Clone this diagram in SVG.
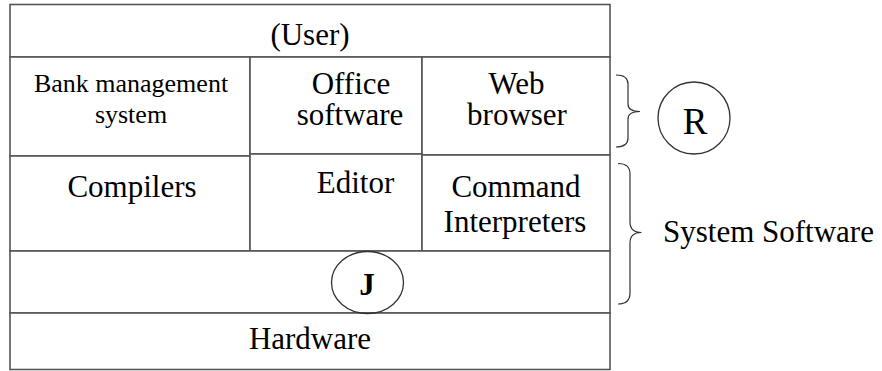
<svg xmlns="http://www.w3.org/2000/svg" width="882" height="371" viewBox="0 0 882 371">
<style>
.box{fill:#ffffff;stroke:#555555;stroke-width:1.6}
.t{font-family:"Liberation Serif","Times New Roman",serif;font-size:31px;fill:#000000;text-anchor:middle}
.s{font-size:26px}
.c{fill:none;stroke:#333333;stroke-width:1.3}
.br{fill:none;stroke:#333333;stroke-width:1.2}
</style>
<rect width="882" height="371" fill="#ffffff"/>
<g id="user"><rect class="box" x="10" y="4.5" width="600" height="52.5"/><text class="t" x="310" y="45">(User)</text></g>
<g id="bank"><rect class="box" x="10" y="57" width="240" height="99"/><text class="t s" x="131" y="92">Bank management</text><text class="t s" x="131" y="123">system</text></g>
<g id="office"><rect class="box" x="250" y="57" width="172" height="97"/><text class="t" x="351" y="94">Office</text><text class="t" x="350" y="125">software</text></g>
<g id="web"><rect class="box" x="422" y="57" width="188" height="98"/><text class="t" x="516.5" y="94">Web</text><text class="t" x="517" y="125">browser</text></g>
<g id="compilers"><rect class="box" x="10" y="156" width="240" height="95"/><text class="t" x="132" y="197">Compilers</text></g>
<g id="editor"><rect class="box" x="250" y="154" width="172" height="97"/><text class="t" x="355.5" y="193">Editor</text></g>
<g id="command"><rect class="box" x="422" y="155" width="188" height="96"/><text class="t" x="516" y="197">Command</text><text class="t" x="515" y="231.5">Interpreters</text></g>
<g id="kernel"><rect class="box" x="10" y="251" width="600" height="62"/></g>
<g id="hardware"><rect class="box" x="10" y="313" width="600" height="56.5"/><text class="t" x="310" y="349">Hardware</text></g>
<g id="J"><ellipse class="c" cx="367.5" cy="282.5" rx="36" ry="31"/><text class="t" x="367" y="294.5" style="font-size:31px;font-weight:bold">J</text></g>
<g id="R"><circle class="c" cx="694" cy="118" r="36"/><text class="t" x="695" y="134" style="font-size:37px">R</text></g>
<g id="connectors">
<path class="br" d="M616,75 Q628,75 628,84 L628,104 Q628,111.5 640,111.5 Q628,111.5 628,119 L628,138 Q628,147 616,147"/>
<path class="br" d="M618,163.5 Q630,163.5 630,174 L630,222 Q630,232.5 641.5,232.5 Q630,232.5 630,243 L630,293 Q630,304 618,304"/>
</g>
<g id="system-software"><text class="t" x="663" y="241.5" style="text-anchor:start">System Software</text></g>
</svg>
